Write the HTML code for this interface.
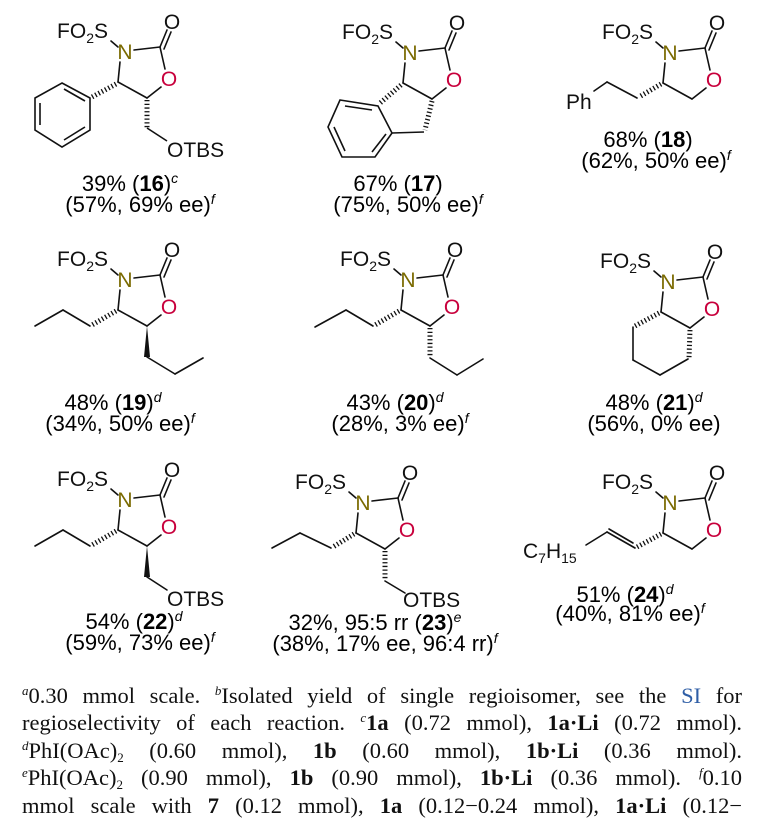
<!DOCTYPE html>
<html><head><meta charset="utf-8"><style>
html,body{margin:0;padding:0;background:#fff;}
body{width:771px;height:831px;position:relative;overflow:hidden;}
svg{position:absolute;left:0;top:0;}
.fn{position:absolute;left:22px;width:720px;font-family:"Liberation Serif",serif;font-size:22.5px;line-height:27.4px;text-align:justify;text-align-last:justify;white-space:nowrap;color:#111;}
.fn sup{font-size:13px;font-style:italic;vertical-align:8px;line-height:0;}
.fn sub{font-size:13px;vertical-align:-4px;line-height:0;}
.fn b{font-weight:bold;}
.si{color:#2f5ea6;}
</style></head><body>
<svg width="771" height="831" viewBox="0 0 771 831" font-family="Liberation Sans, sans-serif" font-size="21">

<g transform="translate(125,52)">
 <g stroke="#111" stroke-width="1.6" fill="none" stroke-linecap="round">
  <line x1="-14" y1="-11" x2="-7" y2="-5"/><line x1="9" y1="-2" x2="35" y2="-5"/>
  <line x1="35" y1="-5" x2="42" y2="-22"/><line x1="39" y1="-3" x2="46" y2="-20"/>
  <line x1="35" y1="-5" x2="40" y2="17"/><line x1="36" y1="35" x2="22" y2="46"/>
  <line x1="22" y1="46" x2="-7" y2="30"/><line x1="-7" y1="30" x2="-5" y2="10"/>
 </g>
 <text x="-17" y="-14" text-anchor="end" fill="#111">FO<tspan font-size="14" dy="5">2</tspan><tspan dy="-5">S</tspan></text>
 <text x="0" y="7" text-anchor="middle" fill="#7a6a00">N</text>
 <text x="47" y="-23" text-anchor="middle" fill="#111">O</text>
 <text x="44" y="34" text-anchor="middle" fill="#c8003c">O</text>
 <g stroke="#111" fill="none" stroke-width="1.6">
  <line x1="-9" y1="32" x2="-33" y2="45" stroke-width="5" stroke-dasharray="1.3 2.4"/>
  <polygon points="-63,31 -35,46 -35,78 -63,95 -90,78 -90,46"/>
  <line x1="-85" y1="51" x2="-85" y2="73"/><line x1="-61" y1="37" x2="-40" y2="49"/><line x1="-40" y1="75" x2="-61" y2="88"/>
  <line x1="22" y1="48" x2="22" y2="76" stroke-width="5" stroke-dasharray="1.3 2.4"/>
  <line x1="22" y1="76" x2="42" y2="89"/>
 </g>
 <text x="42" y="105" fill="#111">OTBS</text>
</g>
<text x="130" y="191" text-anchor="middle" font-size="22">39% (<tspan font-weight="bold">16</tspan>)<tspan font-size="14" font-style="italic" dy="-8">c</tspan></text>
<text x="140" y="212" text-anchor="middle" font-size="22">(57%, 69% ee)<tspan font-size="14" font-style="italic" dy="-8">f</tspan></text>

<g transform="translate(410,53)">
 <g stroke="#111" stroke-width="1.6" fill="none" stroke-linecap="round">
  <line x1="-14" y1="-11" x2="-7" y2="-5"/><line x1="9" y1="-2" x2="35" y2="-5"/>
  <line x1="35" y1="-5" x2="42" y2="-22"/><line x1="39" y1="-3" x2="46" y2="-20"/>
  <line x1="35" y1="-5" x2="40" y2="17"/><line x1="36" y1="35" x2="22" y2="46"/>
  <line x1="22" y1="46" x2="-7" y2="30"/><line x1="-7" y1="30" x2="-5" y2="10"/>
 </g>
 <text x="-17" y="-14" text-anchor="end" fill="#111">FO<tspan font-size="14" dy="5">2</tspan><tspan dy="-5">S</tspan></text>
 <text x="0" y="7" text-anchor="middle" fill="#7a6a00">N</text>
 <text x="47" y="-23" text-anchor="middle" fill="#111">O</text>
 <text x="44" y="34" text-anchor="middle" fill="#c8003c">O</text>
</g>
<g stroke="#111" fill="none" stroke-width="1.6">
 <line x1="401" y1="85" x2="379" y2="104" stroke-width="5" stroke-dasharray="1.3 2.4"/>
 <polygon points="340,100 378,106 392,133 375,157 342,157 328,127"/>
 <line x1="345" y1="106" x2="372" y2="110"/><line x1="334" y1="127" x2="345" y2="151"/><line x1="386" y1="134" x2="372" y2="152"/>
 <line x1="432" y1="101" x2="425" y2="130" stroke-width="5" stroke-dasharray="1.3 2.4"/>
 <line x1="424" y1="132" x2="392" y2="133"/>
</g>
<text x="398" y="191" text-anchor="middle" font-size="22">67% (<tspan font-weight="bold">17</tspan>)</text>
<text x="408" y="212" text-anchor="middle" font-size="22">(75%, 50% ee)<tspan font-size="14" font-style="italic" dy="-8">f</tspan></text>

<g transform="translate(670,53)">
 <g stroke="#111" stroke-width="1.6" fill="none" stroke-linecap="round">
  <line x1="-14" y1="-11" x2="-7" y2="-5"/><line x1="9" y1="-2" x2="35" y2="-5"/>
  <line x1="35" y1="-5" x2="42" y2="-22"/><line x1="39" y1="-3" x2="46" y2="-20"/>
  <line x1="35" y1="-5" x2="40" y2="17"/><line x1="36" y1="35" x2="22" y2="46"/>
  <line x1="22" y1="46" x2="-7" y2="30"/><line x1="-7" y1="30" x2="-5" y2="10"/>
  <line x1="-9" y1="31" x2="-31" y2="44" stroke-width="5" stroke-dasharray="1.3 2.4" stroke-linecap="butt"/>
  <line x1="-33" y1="45" x2="-63" y2="29"/><line x1="-63" y1="29" x2="-76" y2="38"/>
 </g>
 <text x="-17" y="-14" text-anchor="end" fill="#111">FO<tspan font-size="14" dy="5">2</tspan><tspan dy="-5">S</tspan></text>
 <text x="0" y="7" text-anchor="middle" fill="#7a6a00">N</text>
 <text x="47" y="-23" text-anchor="middle" fill="#111">O</text>
 <text x="44" y="34" text-anchor="middle" fill="#c8003c">O</text>
 <text x="-104" y="56" fill="#111">Ph</text>
</g>
<text x="648" y="147" text-anchor="middle" font-size="22">68% (<tspan font-weight="bold">18</tspan>)</text>
<text x="656" y="168" text-anchor="middle" font-size="22">(62%, 50% ee)<tspan font-size="14" font-style="italic" dy="-8">f</tspan></text>

<g transform="translate(125,280)">
 <g stroke="#111" stroke-width="1.6" fill="none" stroke-linecap="round">
  <line x1="-14" y1="-11" x2="-7" y2="-5"/><line x1="9" y1="-2" x2="35" y2="-5"/>
  <line x1="35" y1="-5" x2="42" y2="-22"/><line x1="39" y1="-3" x2="46" y2="-20"/>
  <line x1="35" y1="-5" x2="40" y2="17"/><line x1="36" y1="35" x2="22" y2="46"/>
  <line x1="22" y1="46" x2="-7" y2="30"/><line x1="-7" y1="30" x2="-5" y2="10"/>
  <line x1="-9" y1="31" x2="-33" y2="45" stroke-width="5" stroke-dasharray="1.3 2.4" stroke-linecap="butt"/>
  <line x1="-35" y1="46" x2="-62" y2="30"/><line x1="-62" y1="30" x2="-90" y2="46"/>
  <line x1="22" y1="77" x2="50" y2="94"/><line x1="50" y1="94" x2="78" y2="78"/>
 </g>
 <polygon points="22,46 19,77 25,77" fill="#111"/>
 <text x="-17" y="-14" text-anchor="end" fill="#111">FO<tspan font-size="14" dy="5">2</tspan><tspan dy="-5">S</tspan></text>
 <text x="0" y="7" text-anchor="middle" fill="#7a6a00">N</text>
 <text x="47" y="-23" text-anchor="middle" fill="#111">O</text>
 <text x="44" y="34" text-anchor="middle" fill="#c8003c">O</text>
</g>
<text x="113" y="410" text-anchor="middle" font-size="22">48% (<tspan font-weight="bold">19</tspan>)<tspan font-size="14" font-style="italic" dy="-8">d</tspan></text>
<text x="120" y="431" text-anchor="middle" font-size="22">(34%, 50% ee)<tspan font-size="14" font-style="italic" dy="-8">f</tspan></text>

<g transform="translate(408,280)">
 <g stroke="#111" stroke-width="1.6" fill="none" stroke-linecap="round">
  <line x1="-14" y1="-11" x2="-7" y2="-5"/><line x1="9" y1="-2" x2="35" y2="-5"/>
  <line x1="35" y1="-5" x2="42" y2="-22"/><line x1="39" y1="-3" x2="46" y2="-20"/>
  <line x1="35" y1="-5" x2="40" y2="17"/><line x1="36" y1="35" x2="22" y2="46"/>
  <line x1="22" y1="46" x2="-7" y2="30"/><line x1="-7" y1="30" x2="-5" y2="10"/>
  <line x1="-9" y1="31" x2="-33" y2="45" stroke-width="5" stroke-dasharray="1.3 2.4" stroke-linecap="butt"/>
  <line x1="-35" y1="46" x2="-62" y2="30"/><line x1="-62" y1="30" x2="-93" y2="47"/>
  <line x1="22" y1="48" x2="22" y2="76" stroke-width="5" stroke-dasharray="1.3 2.4" stroke-linecap="butt"/>
  <line x1="22" y1="78" x2="49" y2="95"/><line x1="49" y1="95" x2="75" y2="79"/>
 </g>
 <text x="-17" y="-14" text-anchor="end" fill="#111">FO<tspan font-size="14" dy="5">2</tspan><tspan dy="-5">S</tspan></text>
 <text x="0" y="7" text-anchor="middle" fill="#7a6a00">N</text>
 <text x="47" y="-23" text-anchor="middle" fill="#111">O</text>
 <text x="44" y="34" text-anchor="middle" fill="#c8003c">O</text>
</g>
<text x="395" y="410" text-anchor="middle" font-size="22">43% (<tspan font-weight="bold">20</tspan>)<tspan font-size="14" font-style="italic" dy="-8">d</tspan></text>
<text x="400" y="431" text-anchor="middle" font-size="22">(28%, 3% ee)<tspan font-size="14" font-style="italic" dy="-8">f</tspan></text>

<g transform="translate(668,282)">
 <g stroke="#111" stroke-width="1.6" fill="none" stroke-linecap="round">
  <line x1="-14" y1="-11" x2="-7" y2="-5"/><line x1="9" y1="-2" x2="35" y2="-5"/>
  <line x1="35" y1="-5" x2="42" y2="-22"/><line x1="39" y1="-3" x2="46" y2="-20"/>
  <line x1="35" y1="-5" x2="40" y2="17"/><line x1="36" y1="35" x2="22" y2="46"/>
  <line x1="22" y1="46" x2="-7" y2="30"/><line x1="-7" y1="30" x2="-5" y2="10"/>
  <line x1="-9" y1="31" x2="-33" y2="44" stroke-width="5" stroke-dasharray="1.3 2.4" stroke-linecap="butt"/>
  <line x1="-35" y1="45" x2="-35" y2="78"/><line x1="-35" y1="78" x2="-8" y2="93"/><line x1="-8" y1="93" x2="20" y2="77"/>
  <line x1="22" y1="48" x2="21" y2="76" stroke-width="5" stroke-dasharray="1.3 2.4" stroke-linecap="butt"/>
 </g>
 <text x="-17" y="-14" text-anchor="end" fill="#111">FO<tspan font-size="14" dy="5">2</tspan><tspan dy="-5">S</tspan></text>
 <text x="0" y="7" text-anchor="middle" fill="#7a6a00">N</text>
 <text x="47" y="-23" text-anchor="middle" fill="#111">O</text>
 <text x="44" y="34" text-anchor="middle" fill="#c8003c">O</text>
</g>
<text x="654" y="410" text-anchor="middle" font-size="22">48% (<tspan font-weight="bold">21</tspan>)<tspan font-size="14" font-style="italic" dy="-8">d</tspan></text>
<text x="654" y="431" text-anchor="middle" font-size="22">(56%, 0% ee)</text>

<g transform="translate(125,500)">
 <g stroke="#111" stroke-width="1.6" fill="none" stroke-linecap="round">
  <line x1="-14" y1="-11" x2="-7" y2="-5"/><line x1="9" y1="-2" x2="35" y2="-5"/>
  <line x1="35" y1="-5" x2="42" y2="-22"/><line x1="39" y1="-3" x2="46" y2="-20"/>
  <line x1="35" y1="-5" x2="40" y2="17"/><line x1="36" y1="35" x2="22" y2="46"/>
  <line x1="22" y1="46" x2="-7" y2="30"/><line x1="-7" y1="30" x2="-5" y2="10"/>
  <line x1="-9" y1="31" x2="-33" y2="45" stroke-width="5" stroke-dasharray="1.3 2.4" stroke-linecap="butt"/>
  <line x1="-35" y1="46" x2="-62" y2="30"/><line x1="-62" y1="30" x2="-90" y2="46"/>
  <line x1="22" y1="77" x2="42" y2="90"/>
 </g>
 <polygon points="22,46 19,77 25,77" fill="#111"/>
 <text x="-17" y="-14" text-anchor="end" fill="#111">FO<tspan font-size="14" dy="5">2</tspan><tspan dy="-5">S</tspan></text>
 <text x="0" y="7" text-anchor="middle" fill="#7a6a00">N</text>
 <text x="47" y="-23" text-anchor="middle" fill="#111">O</text>
 <text x="44" y="34" text-anchor="middle" fill="#c8003c">O</text>
 <text x="42" y="106" fill="#111">OTBS</text>
</g>
<text x="134" y="629" text-anchor="middle" font-size="22">54% (<tspan font-weight="bold">22</tspan>)<tspan font-size="14" font-style="italic" dy="-8">d</tspan></text>
<text x="140" y="650" text-anchor="middle" font-size="22">(59%, 73% ee)<tspan font-size="14" font-style="italic" dy="-8">f</tspan></text>

<g transform="translate(363,503)">
 <g stroke="#111" stroke-width="1.6" fill="none" stroke-linecap="round">
  <line x1="-14" y1="-11" x2="-7" y2="-5"/><line x1="9" y1="-2" x2="35" y2="-5"/>
  <line x1="35" y1="-5" x2="42" y2="-22"/><line x1="39" y1="-3" x2="46" y2="-20"/>
  <line x1="35" y1="-5" x2="40" y2="17"/><line x1="36" y1="35" x2="22" y2="46"/>
  <line x1="22" y1="46" x2="-7" y2="30"/><line x1="-7" y1="30" x2="-5" y2="10"/>
  <line x1="-9" y1="31" x2="-30" y2="44" stroke-width="5" stroke-dasharray="1.3 2.4" stroke-linecap="butt"/>
  <line x1="-32" y1="45" x2="-63" y2="30"/><line x1="-63" y1="30" x2="-91" y2="45"/>
  <line x1="22" y1="48" x2="22" y2="76" stroke-width="5" stroke-dasharray="1.3 2.4" stroke-linecap="butt"/>
  <line x1="22" y1="78" x2="42" y2="90"/>
 </g>
 <text x="-17" y="-14" text-anchor="end" fill="#111">FO<tspan font-size="14" dy="5">2</tspan><tspan dy="-5">S</tspan></text>
 <text x="0" y="7" text-anchor="middle" fill="#7a6a00">N</text>
 <text x="47" y="-23" text-anchor="middle" fill="#111">O</text>
 <text x="44" y="34" text-anchor="middle" fill="#c8003c">O</text>
 <text x="40" y="104" fill="#111">OTBS</text>
</g>
<text x="375" y="630" text-anchor="middle" font-size="22">32%, 95:5 rr (<tspan font-weight="bold">23</tspan>)<tspan font-size="14" font-style="italic" dy="-8">e</tspan></text>
<text x="385" y="651" text-anchor="middle" font-size="22">(38%, 17% ee, 96:4 rr)<tspan font-size="14" font-style="italic" dy="-8">f</tspan></text>

<g transform="translate(670,503)">
 <g stroke="#111" stroke-width="1.6" fill="none" stroke-linecap="round">
  <line x1="-14" y1="-11" x2="-7" y2="-5"/><line x1="9" y1="-2" x2="35" y2="-5"/>
  <line x1="35" y1="-5" x2="42" y2="-22"/><line x1="39" y1="-3" x2="46" y2="-20"/>
  <line x1="35" y1="-5" x2="40" y2="17"/><line x1="36" y1="35" x2="22" y2="46"/>
  <line x1="22" y1="46" x2="-7" y2="30"/><line x1="-7" y1="30" x2="-5" y2="10"/>
  <line x1="-9" y1="31" x2="-33" y2="44" stroke-width="5" stroke-dasharray="1.3 2.4" stroke-linecap="butt"/>
  <line x1="-35" y1="45" x2="-63" y2="29"/><line x1="-37" y1="40" x2="-61" y2="26"/>
  <line x1="-63" y1="29" x2="-84" y2="42"/>
 </g>
 <text x="-17" y="-14" text-anchor="end" fill="#111">FO<tspan font-size="14" dy="5">2</tspan><tspan dy="-5">S</tspan></text>
 <text x="0" y="7" text-anchor="middle" fill="#7a6a00">N</text>
 <text x="47" y="-23" text-anchor="middle" fill="#111">O</text>
 <text x="44" y="34" text-anchor="middle" fill="#c8003c">O</text>
 <text x="-147" y="55" fill="#111">C<tspan font-size="14" dy="5">7</tspan><tspan dy="-5">H</tspan><tspan font-size="14" dy="5">15</tspan></text>
</g>
<text x="625" y="602" text-anchor="middle" font-size="22">51% (<tspan font-weight="bold">24</tspan>)<tspan font-size="14" font-style="italic" dy="-8">d</tspan></text>
<text x="630" y="621" text-anchor="middle" font-size="22">(40%, 81% ee)<tspan font-size="14" font-style="italic" dy="-8">f</tspan></text>
</svg>

<div class="fn" style="top:682px"><sup>a</sup>0.30 mmol scale. <sup>b</sup>Isolated yield of single regioisomer, see the <span class="si">SI</span> for</div>
<div class="fn" style="top:709.4px">regioselectivity of each reaction. <sup>c</sup><b>1a</b> (0.72 mmol), <b>1a·Li</b> (0.72 mmol).</div>
<div class="fn" style="top:736.8px"><sup>d</sup>PhI(OAc)<sub>2</sub> (0.60 mmol), <b>1b</b> (0.60 mmol), <b>1b·Li</b> (0.36 mmol).</div>
<div class="fn" style="top:764.2px"><sup>e</sup>PhI(OAc)<sub>2</sub> (0.90 mmol), <b>1b</b> (0.90 mmol), <b>1b·Li</b> (0.36 mmol). <sup>f</sup>0.10</div>
<div class="fn" style="top:791.6px">mmol scale with <b>7</b> (0.12 mmol), <b>1a</b> (0.12−0.24 mmol), <b>1a·Li</b> (0.12−</div>
</body></html>
